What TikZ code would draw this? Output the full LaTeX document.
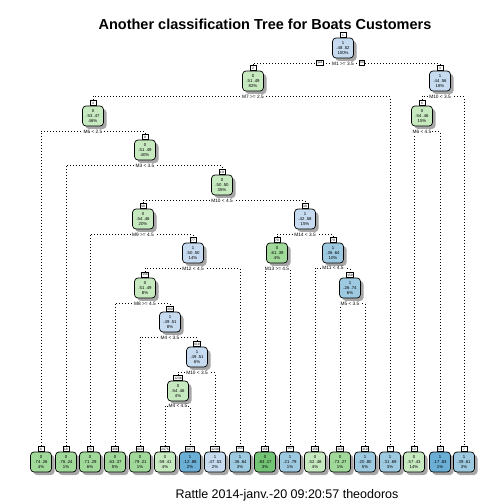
\documentclass[tikz,border=0pt]{standalone}
\usepackage{fontspec}
\setmainfont{Liberation Sans}
\usetikzlibrary{shadows,backgrounds}
\definecolor{ga}{HTML}{C7E9C0}
\definecolor{gb}{HTML}{A1D99B}
\definecolor{gc}{HTML}{74C476}
\definecolor{ba}{HTML}{C6DBEF}
\definecolor{bb}{HTML}{9ECAE1}
\definecolor{bc}{HTML}{6BAED6}
\newcommand\tnode[6]{%
  \node[nbox,fill=#4] (#1) at (#2,#3) {#6};
  \node[idbox] (#1i) at (#1.north) {#5};}
\newcommand\tsplit[2]{\node[slab] (#1s) at ([yshift=-5pt]#1.south) {#2};}
\newcommand\tbr[3]{\draw[br] (#2i.north) -- (#2i.north |- #1s) -- (#3i.north |- #1s) -- (#3i.north);}
\begin{document}
\begin{tikzpicture}[x=1pt,y=-1pt,
  nbox/.style={draw=black,line width=0.7pt,rounded corners=3.5pt,minimum width=21pt,minimum height=20pt,inner sep=0pt,align=center,font=\fontsize{4.3}{5}\selectfont,
    drop shadow={shadow xshift=3pt,shadow yshift=-3pt,fill=black,opacity=0.35}},
  idbox/.style={draw=black,fill=white,line width=0.5pt,anchor=south,inner xsep=0.8pt,inner ysep=0.4pt,minimum height=5pt,minimum width=6pt,font=\fontsize{3.2}{3.4}\selectfont},
  slab/.style={fill=white,inner xsep=1pt,inner ysep=0.5pt,font=\fontsize{4.8}{5.2}\selectfont},
  ynbox/.style={draw=black,fill=white,line width=0.5pt,inner xsep=0.8pt,inner ysep=0.4pt,minimum height=5pt,font=\fontsize{3.2}{3.4}\selectfont},
  br/.style={line width=0.8pt,dash pattern=on 0.8pt off 2.2pt}]
\useasboundingbox (0,0) rectangle (504,504);
\node[font=\bfseries\fontsize{14.5}{16}\selectfont] (title) at (265,24) {Another classification Tree for Boats Customers};
\node[font=\fontsize{12.5}{14}\selectfont] (foot) at (287,495) {Rattle 2014-janv.-20 09:20:57 theodoros};
% internal nodes
\tnode{n1}{343}{48}{ba}{1}{1\\.48 .52\\100\%}
\tnode{n2}{253}{81}{ga}{2}{0\\.51 .49\\82\%}
\tnode{n3}{440}{81}{ba}{3}{1\\.44 .56\\18\%}
\tnode{n4}{93}{116}{ga}{4}{0\\.53 .47\\46\%}
\tnode{n6}{422}{116}{ga}{6}{0\\.54 .46\\15\%}
\tnode{n9}{145}{150}{ga}{9}{0\\.51 .49\\40\%}
\tnode{n19}{222}{185}{ga}{19}{0\\.50 .50\\35\%}
\tnode{n38}{143}{219}{ga}{38}{0\\.54 .46\\20\%}
\tnode{n39}{305}{219}{ba}{39}{1\\.42 .58\\15\%}
\tnode{n77}{193}{253}{ba}{77}{1\\.50 .50\\14\%}
\tnode{n78}{277}{253}{gb}{78}{0\\.61 .39\\4\%}
\tnode{n79}{333}{253}{bb}{79}{1\\.36 .64\\10\%}
\tnode{n154}{145}{288}{ga}{154}{0\\.51 .49\\8\%}
\tnode{n159}{350}{288}{bb}{159}{1\\.26 .74\\6\%}
\tnode{n309}{170}{322}{ba}{309}{1\\.49 .51\\8\%}
\tnode{n619}{197}{357}{ba}{619}{1\\.49 .51\\6\%}
\tnode{n1238}{178}{391}{ga}{1238}{0\\.54 .46\\4\%}
% leaves
\tnode{l8}{41}{462}{gb}{8}{0\\.74 .26\\4\%}
\tnode{l18}{66}{462}{gb}{18}{0\\.76 .24\\1\%}
\tnode{l76}{90}{462}{gb}{76}{0\\.71 .29\\6\%}
\tnode{l308}{115}{462}{gb}{308}{0\\.63 .37\\5\%}
\tnode{l618}{140}{462}{gb}{618}{0\\.79 .21\\1\%}
\tnode{l2476}{165}{462}{ga}{2476}{0\\.59 .41\\4\%}
\tnode{l2477}{190}{462}{bc}{2477}{1\\.12 .88\\2\%}
\tnode{l1239}{215}{462}{ba}{1239}{1\\.47 .53\\2\%}
\tnode{l155}{240}{462}{bb}{155}{1\\.36 .64\\3\%}
\tnode{l156}{265}{462}{gc}{156}{0\\.83 .17\\3\%}
\tnode{l157}{290}{462}{bb}{157}{1\\.21 .79\\1\%}
\tnode{l158}{315}{462}{ga}{158}{0\\.52 .48\\4\%}
\tnode{l318}{340}{462}{gb}{318}{0\\.73 .27\\1\%}
\tnode{l319}{365}{462}{bb}{319}{1\\.20 .80\\5\%}
\tnode{l5}{390}{462}{bb}{5}{1\\.31 .69\\3\%}
\tnode{l12}{414}{462}{ga}{12}{0\\.57 .43\\14\%}
\tnode{l13}{440}{462}{bc}{13}{1\\.17 .83\\1\%}
\tnode{l7}{464}{462}{bb}{7}{1\\.39 .61\\3\%}
% split labels
\tsplit{n1}{M1 >= 3.5}
\tsplit{n2}{M7 >= 2.5}
\tsplit{n3}{M10 < 3.5}
\tsplit{n4}{M6 < 2.5}
\tsplit{n6}{M6 < 4.5}
\tsplit{n9}{M3 < 3.5}
\tsplit{n19}{M10 < 4.5}
\tsplit{n38}{M9 >= 4.5}
\tsplit{n39}{M14 < 3.5}
\tsplit{n77}{M12 < 4.5}
\tsplit{n78}{M13 >= 4.5}
\tsplit{n79}{M11 < 4.5}
\tsplit{n154}{M8 >= 4.5}
\tsplit{n159}{M5 < 3.5}
\tsplit{n309}{M4 < 3.5}
\tsplit{n619}{M10 < 3.5}
\tsplit{n1238}{M4 < 4.5}
\node[ynbox] (yes) at (320,63) {yes};
\node[ynbox] (no) at (362,63) {no};
\begin{pgfonlayer}{background}
\tbr{n1}{n2}{n3}
\tbr{n2}{n4}{l5}
\tbr{n3}{n6}{l7}
\tbr{n4}{l8}{n9}
\tbr{n6}{l12}{l13}
\tbr{n9}{l18}{n19}
\tbr{n19}{n38}{n39}
\tbr{n38}{l76}{n77}
\tbr{n39}{n78}{n79}
\tbr{n77}{n154}{l155}
\tbr{n78}{l156}{l157}
\tbr{n79}{l158}{n159}
\tbr{n154}{l308}{n309}
\tbr{n159}{l318}{l319}
\tbr{n309}{l618}{n619}
\tbr{n619}{n1238}{l1239}
\tbr{n1238}{l2476}{l2477}
\end{pgfonlayer}
\end{tikzpicture}
\end{document}
